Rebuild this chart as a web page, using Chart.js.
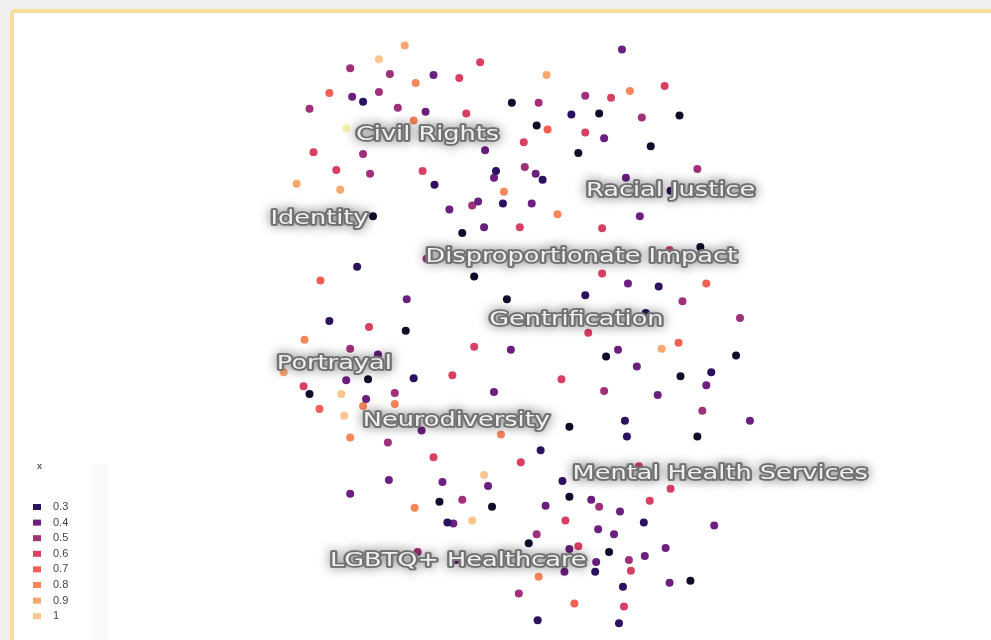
<!DOCTYPE html>
<html>
<head>
<meta charset="utf-8">
<style>
  html, body { margin: 0; padding: 0; background: #f1eeee; overflow: hidden; }
  #frame { position: absolute; left: 10px; top: 9px; width: 1000px; height: 660px;
           border: 4px solid #f8dc97; border-radius: 5px; background: #fff; }
  #wrap { position: absolute; left: 0; top: 0; width: 991px; height: 640px; }
</style>
<script src="https://cdn.jsdelivr.net/npm/chart.js@4.4.0/dist/chart.umd.min.js"></script>
</head>
<body>
<div id="frame"></div>
<div id="wrap"><canvas id="c"></canvas></div>
<script>
// embedding coordinates (umap1, umap2) and colour value x of each document
const umap1 = [
  404, 378, 349, 480, 389, 433, 459, 415, 328, 351,
  362, 378, 308, 397, 425, 466, 413, 512, 345, 485,
  312, 362, 335, 369, 422, 496, 494, 434, 295, 339,
  504, 449, 472, 478, 503, 372, 484, 520, 623, 547,
  666, 631, 586, 612, 539, 572, 600, 643, 681, 537,
  548, 586, 605, 524, 652, 579, 699, 525, 536, 543,
  627, 532, 558, 641, 603, 462, 356, 319, 426, 474,
  507, 406, 328, 368, 405, 303, 349, 377, 474, 511,
  282, 345, 367, 413, 452, 302, 308, 340, 394, 365,
  494, 318, 362, 394, 343, 421, 349, 501, 702, 671,
  603, 629, 660, 708, 586, 684, 742, 647, 589, 619,
  663, 680, 607, 738, 638, 562, 682, 713, 708, 605,
  659, 704, 570, 626, 752, 628, 699, 387, 541, 433,
  521, 484, 388, 442, 488, 563, 349, 439, 462, 492,
  414, 570, 546, 447, 453, 472, 566, 537, 529, 570,
  579, 417, 456, 565, 539, 519, 575, 538, 640, 672,
  592, 600, 621, 651, 645, 716, 599, 615, 667, 610,
  630, 646, 597, 596, 632, 671, 692, 624, 625, 620,
  672
];
const umap2 = [
   42,  56,  65,  59,  71,  72,  75,  80,  90,  94,
   99,  89, 106, 105, 109, 111, 118, 100, 126, 148,
  150, 152, 168, 172, 169, 169, 176, 183, 182, 188,
  190, 208, 204, 200, 202, 215, 226, 226,  46,  72,
   83,  88,  93,  95, 100, 112, 111, 115, 113, 123,
  127, 130, 136, 140, 144, 151, 167, 165, 172, 178,
  176, 202, 213, 215, 227, 232, 266, 280, 258, 276,
  299, 299, 321, 327, 331, 340, 349, 355, 347, 350,
  373, 381, 380, 379, 376, 387, 395, 395, 394, 400,
  393, 410, 407, 405, 417, 432, 439, 436, 246, 249,
  273, 283, 286, 283, 295, 301, 318, 313, 333, 350,
  349, 343, 357, 356, 367, 380, 377, 373, 386, 392,
  396, 412, 428, 422, 422, 438, 438, 444, 452, 459,
  464, 477, 482, 484, 488, 483, 496, 504, 502, 509,
  510, 499, 508, 525, 526, 523, 523, 537, 546, 552,
  549, 555, 563, 575, 580, 597, 607, 624, 468, 491,
  502, 509, 514, 503, 525, 528, 532, 537, 551, 555,
  563, 559, 565, 575, 574, 586, 584, 590, 610, 627,
  189
];
const xValue = [
  0.9, 1.0, 0.5, 0.6, 0.5, 0.4, 0.6, 0.8, 0.7, 0.4,
  0.3, 0.5, 0.5, 0.5, 0.4, 0.6, 0.8, 0.2, 1.1, 0.4,
  0.6, 0.5, 0.6, 0.5, 0.6, 0.3, 0.4, 0.3, 0.9, 0.9,
  0.8, 0.4, 0.5, 0.4, 0.3, 0.2, 0.4, 0.6, 0.4, 0.9,
  0.6, 0.8, 0.5, 0.6, 0.5, 0.3, 0.2, 0.5, 0.2, 0.2,
  0.7, 0.6, 0.4, 0.6, 0.2, 0.2, 0.5, 0.5, 0.4, 0.3,
  0.4, 0.4, 0.8, 0.4, 0.6, 0.2, 0.3, 0.7, 0.5, 0.2,
  0.2, 0.4, 0.3, 0.6, 0.2, 0.8, 0.5, 0.4, 0.6, 0.4,
  0.9, 0.4, 0.2, 0.3, 0.6, 0.6, 0.2, 1.0, 0.5, 0.4,
  0.4, 0.7, 0.8, 0.8, 1.0, 0.4, 0.8, 0.8, 0.2, 0.6,
  0.6, 0.4, 0.3, 0.7, 0.3, 0.5, 0.5, 0.3, 0.6, 0.4,
  0.9, 0.7, 0.2, 0.2, 0.4, 0.6, 0.2, 0.3, 0.4, 0.5,
  0.4, 0.5, 0.2, 0.3, 0.4, 0.3, 0.2, 0.5, 0.3, 0.6,
  0.6, 1.0, 0.4, 0.4, 0.4, 0.3, 0.4, 0.2, 0.5, 0.2,
  0.8, 0.2, 0.4, 0.3, 0.4, 1.0, 0.6, 0.5, 0.2, 0.4,
  0.6, 0.5, 0.4, 0.4, 0.8, 0.5, 0.7, 0.3, 0.6, 0.6,
  0.4, 0.5, 0.4, 0.6, 0.3, 0.4, 0.4, 0.4, 0.4, 0.2,
  0.5, 0.4, 0.4, 0.3, 0.6, 0.4, 0.2, 0.3, 0.6, 0.3,
  0.3
];

// topic names placed on the map
const topics  = ['Civil Rights', 'Racial Justice', 'Identity', 'Disproportionate Impact', 'Gentrification',
                 'Portrayal', 'Neurodiversity', 'Mental Health Services', 'LGBTQ+ Healthcare'];
const topicU1 = [427, 672, 318, 582, 577, 333, 456, 722, 458];
const topicU2 = [132, 189, 218, 256, 320, 364, 422, 476, 564];

// legend levels
const legendLevels = [0.3, 0.4, 0.5, 0.6, 0.7, 0.8, 0.9, 1];

const magma = {
  0.2: '#110c2a',
  0.3: '#2c1160',
  0.4: '#6b1f7f',
  0.5: '#a1307a',
  0.6: '#d93f63',
  0.7: '#f35f55',
  0.8: '#f7865b',
  0.9: '#fba66f',
  1.0: '#fcc58c',
  1.1: '#f3f1a6'
};

const levels = Object.keys(magma).map(Number).sort((a, b) => a - b);
const datasets = levels.map(lv => ({
  label: String(lv),
  data: umap1.map((u, i) => ({ x: u, y: umap2[i], v: xValue[i] })).filter(p => Math.abs(p.v - lv) < 1e-6),
  backgroundColor: magma[lv],
  borderWidth: 0,
  pointRadius: 4,
  pointHoverRadius: 4
}));

const topicLabels = {
  id: 'topicLabels',
  afterDatasetsDraw(chart) {
    const ctx = chart.ctx;
    const sx = chart.scales.x, sy = chart.scales.y;
    topics.forEach((t, i) => {
      const px = sx.getPixelForValue(topicU1[i]);
      const py = sy.getPixelForValue(topicU2[i]);
      ctx.save();
      ctx.font = '20px "DejaVu Sans"';
      ctx.textAlign = 'center';
      ctx.textBaseline = 'middle';
      ctx.translate(px, py);
      ctx.scale(1.28, 1);
      ctx.lineJoin = 'round';
      // soft grey halo
      ctx.shadowColor = 'rgba(0,0,0,0.45)';
      ctx.shadowBlur = 12;
      ctx.lineWidth = 4;
      ctx.strokeStyle = '#8a8a8a';
      ctx.strokeText(t, 0, 0);
      ctx.shadowColor = 'transparent';
      ctx.lineWidth = 3;
      ctx.strokeStyle = '#707070';
      ctx.strokeText(t, 0, 0);
      ctx.fillStyle = '#f0f0f0';
      ctx.fillText(t, 0, 0);
      ctx.restore();
    });
  }
};

const colorLegend = {
  id: 'colorLegend',
  beforeDatasetsDraw(chart) {
    const ctx = chart.ctx;
    ctx.save();
    ctx.fillStyle = '#fafafa';
    ctx.fillRect(91, 464, 17, 176);
    ctx.restore();
  },
  afterDraw(chart) {
    const ctx = chart.ctx;
    ctx.save();
    ctx.fillStyle = '#555';
    ctx.font = 'bold 9px "Liberation Sans"';
    ctx.textBaseline = 'middle';
    ctx.fillText('x', 37, 467);
    ctx.font = '11px "Liberation Sans"';
    legendLevels.forEach((lv, i) => {
      const y = 507 + i * 15.6;
      ctx.fillStyle = magma[lv === 1 ? 1.0 : lv];
      ctx.fillRect(33, y - 3, 8, 6);
      ctx.fillStyle = '#444';
      ctx.fillText(String(lv), 53, y);
    });
    ctx.restore();
  }
};

new Chart(document.getElementById('c'), {
  type: 'scatter',
  data: { datasets },
  options: {
    responsive: true,
    maintainAspectRatio: false,
    animation: false,
    layout: { padding: 0 },
    plugins: {
      legend: { display: false },
      tooltip: { enabled: false }
    },
    scales: {
      x: { type: 'linear', min: 0, max: 991, display: false },
      y: { type: 'linear', min: 0, max: 640, reverse: true, display: false }
    }
  },
  plugins: [colorLegend, topicLabels]
});
</script>
</body>
</html>
